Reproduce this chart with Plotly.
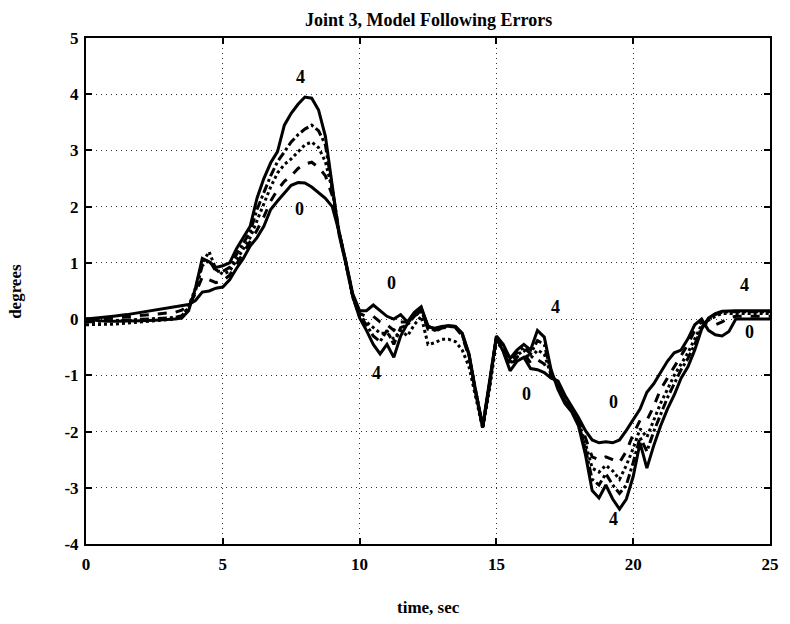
import plotly.graph_objects as go

# Sample times (s)
time_s = [0, 0.5, 1, 1.5, 2, 2.5, 3, 3.25, 3.5,
          3.75, 4, 4.25, 4.5, 4.75, 5, 5.25, 5.5, 5.75, 6, 6.25, 6.5, 6.75, 7,
          7.25, 7.5, 7.75, 8, 8.25, 8.5, 8.75, 9, 9.25, 9.5, 9.75, 10,
          10.25, 10.5, 10.75, 11, 11.25, 11.5, 11.75, 12, 12.25, 12.5, 12.75, 13,
          13.25, 13.5, 13.75, 14,
          14.25, 14.5, 14.75, 15, 15.25, 15.5, 15.75, 16, 16.25, 16.5, 16.75, 17,
          17.25, 17.5, 17.75, 18, 18.25, 18.5, 18.75, 19, 19.25, 19.5, 19.75, 20,
          20.25, 20.5, 20.75, 21,
          21.25, 21.5, 21.75, 22, 22.25, 22.5, 22.75, 23, 23.25, 23.5, 23.75, 24,
          24.5, 25]

# Model following error (degrees) for cases 0..4
err_0 = [0.00, 0.02, 0.05, 0.08, 0.12, 0.16, 0.19, 0.21, 0.24,
         0.26, 0.33, 0.48, 0.50, 0.55, 0.57, 0.70, 0.90, 1.08, 1.30, 1.45, 1.65, 1.95, 2.10,
         2.25, 2.38, 2.43, 2.42, 2.35, 2.25, 2.15, 2.00, 1.55, 1.02, 0.45, 0.15,
         0.15, 0.25, 0.15, 0.05, 0.00, 0.08, -0.05, 0.12, 0.22, -0.14, -0.16, -0.13,
         -0.12, -0.13, -0.26, -0.64,
         -1.33, -1.93, -1.15, -0.32, -0.58, -0.92, -0.75, -0.68, -0.88, -0.90, -0.95, -1.05,
         -1.10, -1.35, -1.55, -1.75, -1.98, -2.15, -2.20, -2.18, -2.20, -2.15, -1.98, -1.78,
         -1.60, -1.30, -1.15, -0.95,
         -0.75, -0.60, -0.55, -0.35, -0.10, 0.00, -0.20, -0.28, -0.30, -0.22, 0.00, 0.00,
         0.00, 0.00]

err_1 = [0.00, 0.00, 0.02, 0.04, 0.06, 0.08, 0.10, 0.12, 0.16,
         0.25, 0.45, 0.75, 0.70, 0.65, 0.68, 0.78, 0.98, 1.18, 1.38, 1.58, 1.82, 2.10, 2.30,
         2.45, 2.55, 2.68, 2.76, 2.79, 2.70, 2.55, 2.20, 1.55, 1.00, 0.42, 0.10,
         0.05, 0.05, -0.05, -0.10, -0.20, -0.05, -0.05, 0.05, 0.15, -0.18, -0.22, -0.16,
         -0.14, -0.15, -0.30, -0.68,
         -1.33, -1.93, -1.15, -0.33, -0.55, -0.85, -0.68, -0.60, -0.78, -0.72, -0.80, -1.02,
         -1.12, -1.38, -1.58, -1.80, -2.10, -2.45, -2.50, -2.45, -2.50, -2.55, -2.35, -2.05,
         -1.80, -1.80, -1.55, -1.25,
         -1.05, -0.85, -0.65, -0.45, -0.20, -0.05, -0.08, -0.10, -0.05, 0.02, 0.05, 0.05,
         0.05, 0.05]

err_2 = [-0.10, -0.10, -0.09, -0.07, -0.05, -0.03, -0.02, 0.00, 0.04,
         0.22, 0.55, 1.00, 1.20, 0.88, 0.80, 0.85, 1.05, 1.25, 1.45, 1.75, 2.05, 2.35, 2.60,
         2.75, 2.85, 2.98, 3.10, 3.15, 3.05, 2.80, 2.30, 1.55, 1.00, 0.40, 0.05,
         -0.05, -0.15, -0.25, -0.25, -0.35, -0.20, -0.30, -0.10, 0.05, -0.45, -0.42, -0.36,
         -0.36, -0.40, -0.55, -0.85,
         -1.40, -1.95, -1.25, -0.40, -0.55, -0.80, -0.65, -0.55, -0.70, -0.55, -0.62, -1.00,
         -1.15, -1.42, -1.60, -1.82, -2.20, -2.65, -2.72, -2.60, -2.70, -2.85, -2.60, -2.30,
         -1.95, -2.10, -1.80, -1.50,
         -1.25, -1.00, -0.80, -0.60, -0.35, -0.10, -0.02, 0.05, 0.10, 0.10, 0.10, 0.10,
         0.10, 0.10]

err_3 = [-0.05, -0.04, -0.03, -0.02, -0.01, 0.00, 0.02, 0.03, 0.06,
         0.20, 0.50, 0.95, 1.05, 0.85, 0.85, 0.92, 1.15, 1.35, 1.55, 1.95, 2.25, 2.55, 2.80,
         2.98, 3.15, 3.28, 3.38, 3.45, 3.35, 3.10, 2.35, 1.55, 1.00, 0.40, 0.05,
         -0.10, -0.30, -0.40, -0.20, -0.45, -0.15, -0.10, 0.05, 0.15, -0.15, -0.20, -0.15,
         -0.13, -0.14, -0.28, -0.65,
         -1.32, -1.92, -1.15, -0.32, -0.50, -0.75, -0.60, -0.50, -0.62, -0.38, -0.45, -0.95,
         -1.20, -1.45, -1.62, -1.85, -2.30, -2.85, -2.95, -2.75, -2.95, -3.10, -2.95, -2.55,
         -2.10, -2.35, -2.00, -1.70,
         -1.40, -1.15, -0.90, -0.70, -0.45, -0.15, 0.00, 0.08, 0.12, 0.13, 0.13, 0.13,
         0.13, 0.13]

err_4 = [0.00, -0.03, -0.04, -0.04, -0.03, -0.02, -0.01, 0.00, 0.02,
         0.15, 0.55, 1.08, 1.02, 0.92, 0.95, 1.00, 1.25, 1.45, 1.65, 2.15, 2.50, 2.78, 2.98,
         3.45, 3.66, 3.82, 3.95, 3.93, 3.72, 3.25, 2.40, 1.50, 0.98, 0.40, 0.02,
         -0.20, -0.45, -0.62, -0.45, -0.68, -0.30, -0.08, 0.08, 0.20, -0.12, -0.18, -0.14,
         -0.12, -0.13, -0.25, -0.62,
         -1.30, -1.90, -1.10, -0.30, -0.45, -0.70, -0.55, -0.45, -0.55, -0.20, -0.32, -0.90,
         -1.25, -1.50, -1.65, -1.90, -2.40, -3.05, -3.18, -2.95, -3.20, -3.38, -3.20, -2.80,
         -2.20, -2.65, -2.25, -1.90,
         -1.60, -1.35, -1.05, -0.85, -0.55, -0.18, 0.02, 0.10, 0.14, 0.15, 0.15, 0.15,
         0.15, 0.15]

series = [err_0, err_1, err_2, err_3, err_4]
dashes = ["solid", "dash", "dot", "dashdot", "solid"]

# Curve tags placed next to the traces
tag_text = ["4", "0", "0", "4", "4", "0", "0", "4", "4", "0"]
tag_t = [7.83, 7.8, 11.15, 10.6, 17.15, 16.1, 19.28, 19.28, 24.08, 24.26]
tag_y = [4.31, 1.96, 0.65, -0.95, 0.21, -1.34, -1.48, -3.55, 0.6, -0.23]

x_ticks = [0, 5, 10, 15, 20, 25]
x_ticktext = ["0", "5", "10", "15", "20", "25"]
y_ticks = [5, 4, 3, 2, 1, 0, -1, -2, -3, -4]
y_ticktext = ["5", "4", "3", "2", "1", "0", "-1", "-2", "-3", "-4"]

FONT = "Liberation Serif"

fig = go.Figure()
for vals, dash in zip(series, dashes):
    fig.add_trace(go.Scatter(
        x=time_s, y=vals, mode="lines",
        line=dict(color="black", width=3, dash=dash, shape="linear"),
        showlegend=False, hoverinfo="skip"))

for txt, tx, ty in zip(tag_text, tag_t, tag_y):
    fig.add_annotation(x=tx, y=ty, text=f"<b>{txt}</b>", showarrow=False,
                       xanchor="center", yanchor="middle",
                       font=dict(family=FONT, size=18, color="black"))

fig.add_annotation(xref="paper", yref="paper", x=0.5, y=1.036,
                   xanchor="center", yanchor="middle",
                   text="<b>Joint 3, Model Following Errors</b>", showarrow=False,
                   font=dict(family=FONT, size=18, color="black"))
fig.add_annotation(xref="paper", yref="paper", x=0.5, y=-0.125,
                   xanchor="center", yanchor="middle",
                   text="<b>time, sec</b>", showarrow=False,
                   font=dict(family=FONT, size=17, color="black"))
fig.add_annotation(xref="paper", yref="paper", x=-0.104, y=0.5,
                   xanchor="center", yanchor="middle",
                   text="<b>degrees</b>", showarrow=False, textangle=-90,
                   font=dict(family=FONT, size=17, color="black"))

axis_common = dict(
    showline=True, linecolor="black", linewidth=2, mirror="allticks",
    ticks="inside", ticklen=6, tickwidth=1.5, tickcolor="black",
    showgrid=True, gridcolor="rgba(0,0,0,0.8)", gridwidth=1, griddash="1px,4px",
    zeroline=False,
    tickfont=dict(family=FONT, size=17, color="black", weight="bold"),
)

fig.update_xaxes(range=[0, 25], tickvals=x_ticks, ticktext=x_ticktext,
                 ticklabelstandoff=4, **axis_common)
fig.update_yaxes(range=[-4, 5], tickvals=y_ticks, ticktext=y_ticktext,
                 ticklabelstandoff=2, **axis_common)

fig.update_layout(
    width=790, height=624,
    margin=dict(l=86, r=11, t=38, b=80),
    paper_bgcolor="white", plot_bgcolor="white",
)

fig.write_html("out.html")
